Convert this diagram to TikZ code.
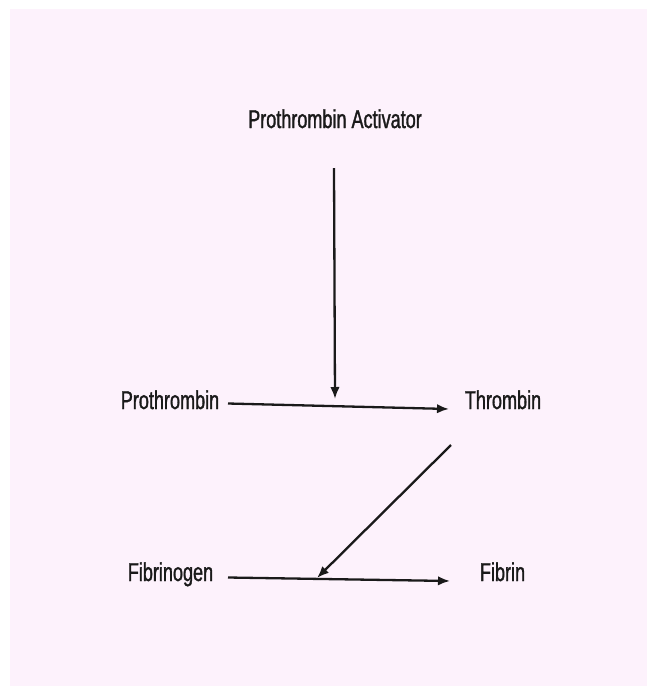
\documentclass[tikz,border=0pt]{standalone}
\usepackage{fontspec}
\setmainfont[FakeStretch=0.70,FakeBold=1.3]{Liberation Sans}
\usetikzlibrary{arrows.meta}
\definecolor{bgpink}{HTML}{FDF2FC}
\definecolor{ink}{HTML}{1A1A1A}
\begin{document}
\begin{tikzpicture}[x=1pt,y=-1pt,
  lbl/.style={font=\fontsize{25.8}{30}\selectfont, text=ink, inner sep=0pt, anchor=base},
  conn/.style={draw=ink, line width=2.3pt, -{Latex[length=12pt,width=9.5pt]}}]
\useasboundingbox (0,0) rectangle (656,686);
\fill[bgpink] (10,9) rectangle (647,686);
\node[lbl] (pa) at (335,128) {Prothrombin Activator};
\node[lbl] (pt) at (170,409) {Prothrombin};
\node[lbl] (th) at (503,409) {Thrombin};
\node[lbl] (fg) at (170.5,581) {Fibrinogen};
\node[lbl] (fb) at (502.5,581) {Fibrin};
\coordinate (paS) at (334,168);
\coordinate (ptE) at (228,403.5);
\coordinate (thW) at (449,409);
\coordinate (mid1) at (335,399);
\coordinate (thS) at (451,445);
\coordinate (fgE) at (228,577.5);
\coordinate (fbW) at (450,581);
\coordinate (mid2) at (317,578);
\draw[conn] (ptE) -- (thW);
\draw[conn] (fgE) -- (fbW);
\draw[conn] (paS) -- (mid1);
\draw[conn] (thS) -- (mid2);
\end{tikzpicture}
\end{document}
